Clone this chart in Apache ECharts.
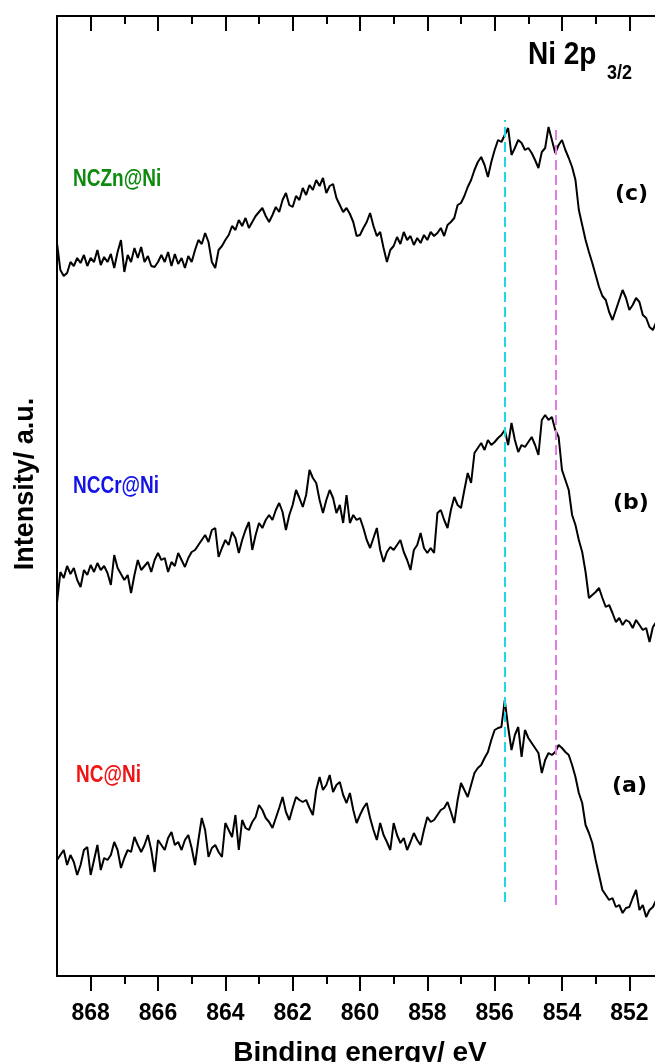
<!DOCTYPE html>
<html>
<head>
<meta charset="utf-8">
<title>Ni 2p3/2 XPS spectra</title>
<script src="https://cdn.jsdelivr.net/npm/echarts@6/dist/echarts.min.js"></script>
<style>
  html, body { margin: 0; padding: 0; background: #fff; }
  #chart { width: 655px; height: 1062px; }
</style>
</head>
<body>
<div id="chart"></div>
<script>
// Binding-energy sampling of the spectra (eV), high to low
const energyStart = 869.0;
const energyStep = 0.1;

// Stacked, offset intensities (a.u.) for each sample
const intensityNCZn = [
  757, 730, 724, 727, 738, 734, 742, 737, 745, 734,
  742, 738, 750, 735, 743, 738, 746, 732, 748, 760,
  728, 745, 738, 752, 742, 753, 738, 744, 734, 733,
  738, 745, 738, 748, 734, 746, 736, 742, 732, 744,
  738, 750, 760, 756, 767, 758, 738, 732, 750, 754,
  760, 765, 774, 770, 780, 774, 782, 772, 778, 784,
  788, 792, 784, 778, 785, 793, 788, 800, 807, 795,
  793, 804, 800, 812, 805, 815, 810, 820, 814, 822,
  807, 814, 816, 802, 795, 788, 792, 786, 778, 764,
  765, 772, 778, 787, 774, 764, 768, 752, 738, 750,
  754, 763, 756, 768, 760, 764, 755, 762, 757, 765,
  760, 768, 764, 767, 772, 764, 775, 778, 782, 795,
  797, 804, 813, 820, 830, 838, 843, 835, 823, 838,
  850, 860, 858, 865, 872, 845, 852, 860, 857, 850,
  852, 847, 840, 832, 848, 852, 873, 860, 847, 855,
  860, 850, 842, 833, 820, 790, 775, 760, 748, 737,
  725, 713, 704, 700, 688, 680, 690, 700, 710, 702,
  690, 695, 702, 698, 685, 682, 673, 670, 678
];

const intensityNCCr = [
  397, 428, 422, 434, 426, 432, 420, 413, 430, 425,
  435, 428, 437, 430, 434, 427, 415, 445, 432, 426,
  420, 425, 407, 425, 440, 430, 434, 438, 428, 440,
  447, 440, 442, 428, 438, 434, 447, 440, 433, 442,
  448, 450, 455, 460, 465, 458, 470, 472, 443, 452,
  460, 455, 468, 462, 447, 460, 470, 478, 450, 465,
  477, 472, 480, 485, 480, 490, 497, 488, 470, 485,
  495, 510, 502, 493, 505, 530, 522, 517, 500, 487,
  500, 510, 502, 487, 495, 477, 505, 477, 485, 480,
  482, 472, 460, 452, 462, 472, 450, 438, 448, 453,
  450, 455, 460, 448, 440, 430, 450, 455, 467, 452,
  447, 452, 447, 487, 490, 480, 472, 490, 503, 495,
  492, 510, 527, 517, 547, 552, 557, 550, 560, 555,
  558, 562, 565, 570, 555, 577, 560, 548, 555, 553,
  558, 563, 555, 545, 580, 585, 580, 583, 570, 563,
  530, 520, 510, 485, 475, 460, 448, 428, 402, 405,
  408, 412, 402, 393, 395, 387, 378, 382, 375, 380,
  378, 372, 380, 375, 370, 372, 358, 373, 378
];

const intensityNC = [
  140, 145, 150, 135, 145, 138, 125, 135, 150, 153,
  125, 140, 155, 130, 142, 140, 145, 158, 150, 132,
  142, 150, 148, 163, 155, 148, 155, 165, 150, 128,
  160, 155, 150, 162, 168, 155, 158, 150, 160, 165,
  152, 135, 160, 182, 170, 143, 152, 155, 148, 143,
  177, 170, 163, 185, 150, 180, 172, 170, 178, 183,
  195, 190, 182, 178, 172, 182, 192, 203, 188, 180,
  192, 203, 200, 198, 200, 192, 185, 210, 223, 210,
  215, 225, 208, 215, 218, 205, 197, 207, 190, 177,
  185, 192, 197, 182, 170, 160, 177, 165, 158, 150,
  177, 165, 157, 162, 150, 158, 167, 160, 155, 170,
  183, 178, 180, 185, 190, 192, 198, 188, 177, 200,
  217, 210, 203, 215, 227, 232, 235, 242, 248, 260,
  270, 272, 273, 300, 273, 250, 265, 273, 243, 270,
  262, 257, 252, 247, 227, 240, 247, 245, 248, 255,
  252, 248, 245, 235, 223, 207, 197, 175, 167, 157,
  140, 125, 110, 105, 100, 102, 93, 95, 87, 92,
  93, 102, 110, 90, 95, 83, 90, 93, 100
];

// Axis ticks (eV)
const majorTicks = [868, 866, 864, 862, 860, 858, 856, 854, 852];
const minorTicks = [867, 865, 863, 861, 859, 857, 855, 853];

// Reference peak positions (eV) and the intensity span of their guide lines
const peakPositions = [855.7, 854.2];
const peakSpans = [[98, 880], [95, 875]];
const peakColors = ['#22d8e0', '#e47ae4'];

const sampleNames = ['NCZn@Ni', 'NCCr@Ni', 'NC@Ni'];
const sampleTags = ['(c)', '(b)', '(a)'];

function toPairs(values) {
  return values.map((v, i) => [+(energyStart - i * energyStep).toFixed(2), v]);
}

const sans = "'Liberation Sans', Arial, sans-serif";
const tagFont = "bold 22px 'DejaVu Sans', sans-serif";

const axisBase = {
  type: 'value',
  min: 851,
  max: 869,
  inverse: true,
  splitLine: { show: false },
  axisLine: { show: false, lineStyle: { color: '#000', width: 2 } }
};

const chart = echarts.init(document.getElementById('chart'), null, { renderer: 'canvas' });

const markLineData = peakPositions.map((e, k) => [
  { coord: [e, peakSpans[k][0]], lineStyle: { color: peakColors[k] } },
  { coord: [e, peakSpans[k][1]] }
]);

const lineSeries = (name, values) => ({
  name,
  type: 'line',
  xAxisIndex: 0,
  yAxisIndex: 0,
  data: toPairs(values),
  showSymbol: false,
  symbol: 'none',
  animation: false,
  lineStyle: { color: '#000', width: 2 },
  z: 3
});

const series = [
  lineSeries(sampleNames[0], intensityNCZn),
  lineSeries(sampleNames[1], intensityNCCr),
  lineSeries(sampleNames[2], intensityNC)
];
series[0].markLine = {
  silent: true,
  symbol: ['none', 'none'],
  animation: false,
  label: { show: false },
  lineStyle: { type: [10, 5], width: 2 },
  data: markLineData
};

// Stretched bold label drawn at (x, y), vertically centred
const label = (text, x, y, fill, size, sy) => ({
  type: 'text', x, y, scaleY: sy, originX: 0, originY: 0,
  style: { text, fill, font: 'bold ' + size + 'px ' + sans, align: 'left', verticalAlign: 'middle' }
});

const option = {
  animation: false,
  backgroundColor: '#fff',
  grid: { left: 57, right: -8, top: 16, bottom: 86, containLabel: false, outerBoundsMode: 'none' },
  xAxis: [
    Object.assign({}, axisBase, {
      position: 'bottom',
      axisLine: { show: true, onZero: false, lineStyle: { color: '#000', width: 2 } },
      axisTick: { show: true, inside: false, length: 15, customValues: majorTicks,
                  lineStyle: { color: '#000', width: 2 } },
      axisLabel: { show: true, customValues: majorTicks, margin: 26, color: '#000',
                   fontFamily: sans, fontWeight: 'bold', fontSize: 23 },
      name: 'Binding energy/ eV',
      nameLocation: 'middle',
      nameGap: 63,
      nameTextStyle: { color: '#000', fontFamily: sans, fontWeight: 'bold', fontSize: 28 }
    }),
    Object.assign({}, axisBase, {
      position: 'bottom',
      axisTick: { show: true, inside: false, length: 8, customValues: minorTicks,
                  lineStyle: { color: '#000', width: 2 } },
      axisLabel: { show: false }
    }),
    Object.assign({}, axisBase, {
      position: 'top',
      axisLine: { show: true, onZero: false, lineStyle: { color: '#000', width: 2 } },
      axisTick: { show: true, inside: true, length: 15, customValues: majorTicks,
                  lineStyle: { color: '#000', width: 2 } },
      axisLabel: { show: false }
    }),
    Object.assign({}, axisBase, {
      position: 'top',
      axisTick: { show: true, inside: true, length: 8, customValues: minorTicks,
                  lineStyle: { color: '#000', width: 2 } },
      axisLabel: { show: false }
    })
  ],
  yAxis: {
    type: 'value',
    min: 24,
    max: 984,
    axisLine: { show: true, onZero: false, lineStyle: { color: '#000', width: 2 } },
    axisTick: { show: false },
    axisLabel: { show: false },
    splitLine: { show: false },
    name: 'Intensity/ a.u.',
    nameLocation: 'middle',
    nameGap: 18,
    nameTextStyle: { color: '#000', fontFamily: sans, fontWeight: 'bold', fontSize: 27,
                     padding: [0, 0, 0, 24] }
  },
  graphic: [
    label('Ni 2p', 528, 55, '#000', 28, 1.15),
    label('3/2', 607, 74, '#000', 18, 1.1),
    label(sampleNames[0], 73, 179, '#0e8a0e', 19, 1.3),
    label(sampleNames[1], 73, 486, '#1414e6', 19, 1.3),
    label(sampleNames[2], 76, 775, '#f01414', 19, 1.3),
    { type: 'text', x: 615, y: 194, style: { text: sampleTags[0], fill: '#000', font: tagFont,
      align: 'left', verticalAlign: 'middle' } },
    { type: 'text', x: 613, y: 503, style: { text: sampleTags[1], fill: '#000', font: tagFont,
      align: 'left', verticalAlign: 'middle' } },
    { type: 'text', x: 612, y: 786, style: { text: sampleTags[2], fill: '#000', font: tagFont,
      align: 'left', verticalAlign: 'middle' } }
  ],
  series
};

chart.setOption(option);
</script>
</body>
</html>
